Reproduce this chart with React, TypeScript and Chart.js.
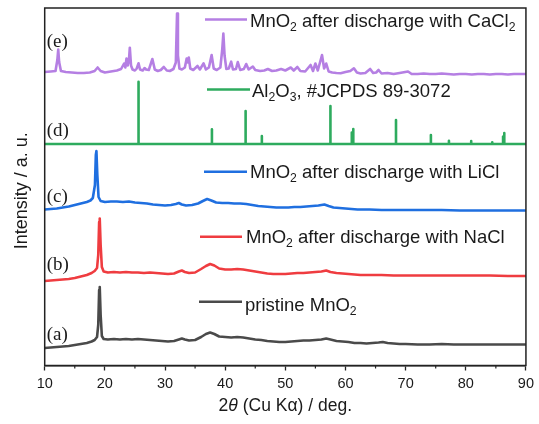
import React, { useEffect, useRef } from "react";
import { Chart, registerables } from "chart.js";

Chart.register(...registerables);

// (a) pristine MnO2
const pristineX = [10, 11, 12, 13, 14, 15, 16, 17, 17.8, 18.3, 18.7, 18.9, 19.05, 19.15, 19.3, 19.5, 19.8, 20.5, 21.5, 22.5, 23.5, 24.5, 25.5, 26.5, 27.5, 28.5, 29.5, 30.5, 31.5, 32.3, 32.8, 33.3, 34, 35, 36, 36.8, 37.5, 38.2, 39, 40, 41, 42, 43, 44, 45, 46, 47, 48, 49, 50, 51, 52, 53, 54, 55, 56, 56.8, 57.5, 58.5, 59.5, 60.5, 61.5, 62.5, 63.5, 64.5, 65.5, 66.2, 67, 68, 69, 70, 72, 74, 76, 78, 80, 82, 84, 86, 88, 90];
const pristineY = [17.5, 18, 18.5, 19, 19.5, 20.5, 21.5, 22.5, 24, 25.5, 28.5, 40.5, 75.5, 78.5, 50.5, 29.5, 26.5, 26, 26.5, 26, 26.5, 26, 26.5, 26, 25.5, 25, 24.5, 24, 24.5, 26, 27, 26, 25, 25.5, 28.5, 31.5, 33, 31.5, 29, 28.5, 28, 28.5, 28, 27, 26, 25.5, 24.5, 24, 23.5, 23.5, 24, 24.5, 25, 25, 25.5, 26, 27, 26, 24.5, 24, 23.5, 22.5, 22.5, 22, 22.5, 23, 23.5, 22.5, 22, 21.5, 21.5, 21, 21, 21.5, 21, 21, 21, 21, 21, 21, 21];

// (b) after discharge with NaCl
const naclX = [10, 11, 12, 13, 14, 15, 16, 17, 17.8, 18.3, 18.7, 18.9, 19.05, 19.15, 19.3, 19.5, 19.8, 20.5, 21.5, 22.5, 23.5, 24.5, 25.5, 26.5, 27.5, 28.5, 29.5, 30.5, 31.5, 32.3, 32.8, 33.3, 34, 35, 36, 36.8, 37.5, 38.2, 39, 40, 41, 42, 43, 44, 45, 46, 47, 48, 49, 50, 51, 52, 53, 54, 55, 56, 56.8, 57.5, 58.5, 59.5, 60.5, 61.5, 62.5, 64, 66, 68, 70, 72, 75, 78, 81, 84, 87, 90];
const naclY = [84.5, 85, 85.5, 86, 86.5, 87.5, 89, 90.5, 92.5, 94.5, 97.5, 110.5, 143.5, 147, 120.5, 98.5, 94, 93, 93.5, 93, 93.5, 93, 93, 92.5, 93, 92.5, 92, 91.5, 92, 94, 95, 93.5, 92.5, 93, 96.5, 99.5, 101.5, 100, 97, 96, 96, 96.5, 96, 95, 94, 93, 92, 91.5, 91.5, 91.5, 92, 92.5, 92.5, 93, 93.5, 94, 95, 93.5, 92.5, 92, 91.5, 91, 90.5, 90.5, 90.5, 90, 90, 90, 90, 90, 90, 90, 89.5, 89.5];

// (c) after discharge with LiCl
const liclX = [10, 11, 12, 13, 14, 15, 16, 17, 17.6, 18.0, 18.35, 18.5, 18.6, 18.75, 18.95, 19.3, 20, 21, 22, 23, 24, 25, 26, 27, 28, 29, 30, 31, 31.8, 32.3, 32.8, 33.5, 34.5, 35.5, 36.3, 37.0, 37.7, 38.5, 39.5, 40.5, 41.5, 42.5, 43.5, 44.5, 45.5, 46.5, 47.5, 48.5, 49.5, 50.5, 51.5, 52.5, 53.5, 54.5, 55.5, 56.5, 57.2, 58, 59, 60, 61, 62, 64, 66, 68, 70, 73, 76, 79, 82, 85, 88, 90];
const liclY = [156, 156.5, 157, 158, 159, 160.5, 162, 163.5, 165, 167.5, 180.5, 210.5, 214.5, 190.5, 168.5, 164.5, 163.5, 164, 164, 163.5, 164, 163, 162.5, 162, 161, 160.5, 160, 160.5, 161.5, 162.5, 161, 160, 160.5, 162, 164.5, 166.5, 165, 163, 162.5, 162.5, 162, 162, 161.5, 160.5, 159.5, 159, 158.5, 158, 158, 158, 158.5, 158.5, 159, 159.5, 160, 161, 159.5, 158, 157.5, 157, 156.5, 156, 156, 155.5, 155.5, 155.5, 155.5, 155.5, 155, 155, 155, 155, 155];

// (d) Al2O3 reference sticks
const al2o3Base = 221.5;
const al2o3Pos = [25.6, 37.8, 43.4, 46.1, 57.5, 61.05, 61.3, 68.4, 74.2, 77.2, 80.9, 84.4, 86.2, 86.4];
const al2o3Top = [283.8, 236.2, 254.5, 229.5, 259.5, 233, 236.5, 245.5, 230.5, 224.8, 224.5, 223.2, 229, 232.5];

// (e) after discharge with CaCl2
const caclX = [10, 11, 11.8, 12.1, 12.25, 12.4, 12.7, 13.5, 14.5, 15.5, 16.5, 17.5, 18.3, 18.8, 19.3, 20, 21, 22, 22.7, 23.2, 23.4, 23.6, 23.8, 24.0, 24.15, 24.35, 24.6, 25.0, 25.3, 25.6, 25.85, 26.3, 26.6, 26.85, 27.3, 27.9, 28.3, 28.8, 29.3, 29.8, 30.3, 30.8, 31.4, 31.8, 32.0, 32.15, 32.4, 32.8, 33.3, 33.6, 33.8, 33.95, 34.2, 34.7, 35.4, 35.8, 36.4, 36.8, 37.3, 37.75, 38.1, 38.6, 39.2, 39.5, 39.7, 39.9, 40.2, 40.6, 41.0, 41.3, 41.8, 42.1, 42.5, 43.1, 43.5, 43.9, 44.6, 45.0, 45.8, 46.5, 47.1, 47.8, 48.5, 49.3, 50.0, 50.9, 51.4, 52.0, 52.5, 53.3, 54.2, 54.6, 55.0, 55.4, 56.1, 56.45, 56.8, 57.2, 57.8, 58.5, 59.2, 60, 60.8, 61.4, 61.9, 62.5, 63.3, 64.1, 64.6, 65.1, 65.5, 66.0, 67, 68, 69, 70.4, 71, 72, 73, 74, 75, 76, 77, 78, 79, 80, 81, 82, 83, 84, 85, 86, 87, 88, 89, 90];
const caclY = [293.5, 294, 294.5, 305.5, 316, 303.5, 294.5, 293.5, 293, 292.5, 292.5, 293, 294.5, 298, 294.5, 293, 294, 295, 296.5, 302, 298, 307, 300, 305, 317.8, 300, 296, 295, 297, 302.2, 296, 295, 297.5, 296, 295.5, 306.5, 296, 294.5, 295.5, 298.5, 295, 294.5, 296.5, 303, 352, 310, 297, 296, 298, 307, 303, 308, 297, 295.5, 299.5, 296, 302.2, 296, 298, 310.5, 297, 295.5, 298, 315, 332, 310, 296.5, 297, 303.8, 296, 296.5, 303.5, 295.5, 296.5, 301.5, 296, 299, 295.5, 294.5, 295, 296.5, 294.5, 295, 296.5, 295, 298, 295, 298.5, 294.5, 294, 300.5, 294.5, 302, 295, 310.5, 297, 302, 294, 293, 292.5, 292.2, 293.5, 294.5, 297.2, 293, 292, 292.5, 296.5, 292.5, 293, 295.5, 292, 292.5, 291.5, 292.5, 294, 291.5, 291.5, 292, 291.5, 291.5, 292, 291.5, 291, 291.5, 291.5, 291, 291.5, 291.5, 291, 291.5, 291.5, 291, 291.5, 291.5, 291.5];

const xTicksMajor = [10, 20, 30, 40, 50, 60, 70, 80, 90];
const xTicksMinor = [15, 25, 35, 45, 55, 65, 75, 85];

const COL_A = "#4a4a4a";
const COL_B = "#ef3c40";
const COL_C = "#1f6fe0";
const COL_D = "#2eab5e";
const COL_E = "#b57fe3";

const SANS = '"Liberation Sans", Arial, sans-serif';
const SERIF = '"Liberation Serif", "Times New Roman", serif';

function zip(xs: number[], ys: number[]) {
  return xs.map((x, i) => ({ x, y: ys[i] }));
}

function sticks(pos: number[], top: number[], base: number) {
  const pts: { x: number; y: number }[] = [{ x: 10, y: base }];
  pos.forEach((p, i) => {
    pts.push({ x: p, y: base }, { x: p, y: top[i] }, { x: p, y: base });
  });
  pts.push({ x: 90, y: base });
  return pts;
}

type Part = { t: string; sub?: boolean; it?: boolean };

function drawRich(ctx: CanvasRenderingContext2D, parts: Part[], x: number, y: number, size: number, align: "left" | "center" = "left") {
  const fontOf = (p: Part) => `${p.it ? "italic " : ""}${p.sub ? size * 0.66 : size}px ${SANS}`;
  let total = 0;
  parts.forEach((p) => {
    ctx.font = fontOf(p);
    total += ctx.measureText(p.t).width;
  });
  let cx = align === "center" ? x - total / 2 : x;
  ctx.textBaseline = "alphabetic";
  ctx.textAlign = "left";
  parts.forEach((p) => {
    ctx.font = fontOf(p);
    ctx.fillText(p.t, cx, p.sub ? y + size * 0.22 : y);
    cx += ctx.measureText(p.t).width;
  });
}

const legendItems: { color: string; lx1: number; lx2: number; ly: number; tx: number; ty: number; parts: Part[] }[] = [
  { color: COL_E, lx1: 205, lx2: 247, ly: 19.5, tx: 250, ty: 26.7, parts: [{ t: "MnO" }, { t: "2", sub: true }, { t: " after discharge with CaCl" }, { t: "2", sub: true }] },
  { color: COL_D, lx1: 207, lx2: 250, ly: 89.5, tx: 252, ty: 96.7, parts: [{ t: "Al" }, { t: "2", sub: true }, { t: "O" }, { t: "3", sub: true }, { t: ", #JCPDS 89-3072" }] },
  { color: COL_C, lx1: 204, lx2: 247, ly: 171.7, tx: 250, ty: 178.3, parts: [{ t: "MnO" }, { t: "2", sub: true }, { t: " after discharge with LiCl" }] },
  { color: COL_B, lx1: 200, lx2: 242, ly: 236.7, tx: 246, ty: 243.3, parts: [{ t: "MnO" }, { t: "2", sub: true }, { t: " after discharge with NaCl" }] },
  { color: COL_A, lx1: 199, lx2: 242, ly: 301.7, tx: 245, ty: 310.5, parts: [{ t: "pristine MnO" }, { t: "2", sub: true }] },
];

const sideLabels = ["(e)", "(d)", "(c)", "(b)", "(a)"];
const sideLabelY = [41.7, 131, 197, 265, 335];

const overlay = {
  id: "overlay",
  afterDraw(chart: any) {
    const ctx: CanvasRenderingContext2D = chart.ctx;
    const a = chart.chartArea;
    const xs = chart.scales.x;
    ctx.save();
    // frame
    ctx.strokeStyle = "#222";
    ctx.lineWidth = 1.5;
    ctx.strokeRect(a.left, a.top, a.right - a.left, a.bottom - a.top);
    // minor ticks
    ctx.lineWidth = 1.2;
    xTicksMinor.forEach((v) => {
      const px = xs.getPixelForValue(v);
      ctx.beginPath();
      ctx.moveTo(px, a.bottom);
      ctx.lineTo(px, a.bottom + 3);
      ctx.stroke();
    });
    // side labels
    ctx.fillStyle = "#1a1a1a";
    ctx.font = `19px ${SERIF}`;
    ctx.textAlign = "left";
    ctx.textBaseline = "middle";
    sideLabels.forEach((s, i) => ctx.fillText(s, a.left + 2, sideLabelY[i]));
    // legend entries
    legendItems.forEach((it) => {
      ctx.strokeStyle = it.color;
      ctx.lineWidth = 2.5;
      ctx.beginPath();
      ctx.moveTo(it.lx1, it.ly);
      ctx.lineTo(it.lx2, it.ly);
      ctx.stroke();
      ctx.fillStyle = "#1a1a1a";
      drawRich(ctx, it.parts, it.tx, it.ty, 18.5);
    });
    // x title
    ctx.fillStyle = "#1a1a1a";
    drawRich(ctx, [{ t: "2" }, { t: "θ", it: true }, { t: " (Cu Kα) / deg." }], (a.left + a.right) / 2, 411, 17.5, "center");
    // y title
    ctx.translate(22.5, (a.top + a.bottom) / 2 + 4);
    ctx.rotate(-Math.PI / 2);
    ctx.font = `18px ${SANS}`;
    ctx.textAlign = "center";
    ctx.textBaseline = "middle";
    ctx.fillText("Intensity / a. u.", 0, 0);
    ctx.restore();
  },
};

export default function App() {
  const ref = useRef<HTMLCanvasElement>(null);
  useEffect(() => {
    if (!ref.current) return;
    const lineDs = (label: string, data: any[], color: string) => ({
      label,
      data,
      borderColor: color,
      backgroundColor: color,
      borderWidth: 2.6,
      pointRadius: 0,
      tension: 0,
      borderJoinStyle: "round" as const,
      fill: false,
    });
    const chart = new Chart(ref.current, {
      type: "line",
      data: {
        datasets: [
          lineDs("pristine", zip(pristineX, pristineY), COL_A),
          lineDs("NaCl", zip(naclX, naclY), COL_B),
          lineDs("LiCl", zip(liclX, liclY), COL_C),
          lineDs("Al2O3", sticks(al2o3Pos, al2o3Top, al2o3Base), COL_D),
          lineDs("CaCl2", zip(caclX, caclY), COL_E),
        ],
      },
      plugins: [overlay],
      options: {
        animation: false,
        responsive: true,
        maintainAspectRatio: false,
        devicePixelRatio: 1,
        layout: { padding: { left: 44.7, right: 8.3, top: 8, bottom: 0 } },
        plugins: { legend: { display: false }, tooltip: { enabled: false } },
        scales: {
          x: {
            type: "linear",
            min: 10,
            max: 90,
            afterBuildTicks: (scale: any) => {
              scale.ticks = xTicksMajor.map((v) => ({ value: v }));
            },
            afterFit: (scale: any) => {
              scale.height = 58.5;
            },
            ticks: {
              color: "#1a1a1a",
              font: { family: SANS, size: 14.5 },
              padding: 5,
              maxRotation: 0,
              autoSkip: false,
            },
            grid: { drawOnChartArea: false, drawTicks: true, tickLength: 5, tickColor: "#222", tickWidth: 1.3 },
            border: { display: true, color: "#222", width: 1.5 },
          },
          y: { type: "linear", display: false, min: 0, max: 357.5 },
        },
      },
    });
    return () => chart.destroy();
  }, []);
  return (
    <div style={{ position: "fixed", left: 0, top: 0, width: "539px", height: "424px", background: "#fff" }}>
      <canvas ref={ref} />
    </div>
  );
}
